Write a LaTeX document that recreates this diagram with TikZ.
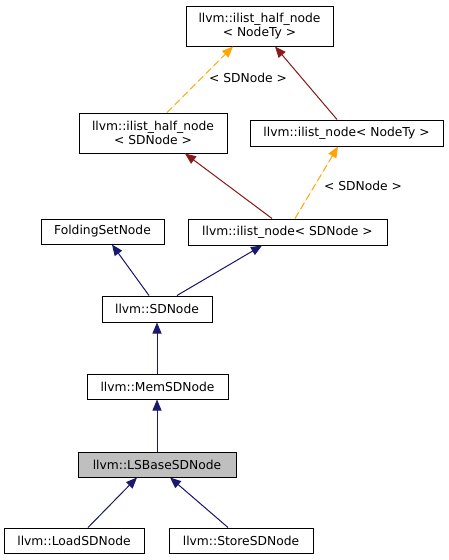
\documentclass[tikz,border=0pt]{standalone}
\usepackage{fontspec}
\setmainfont{DejaVu Sans}
\usetikzlibrary{arrows.meta}
\definecolor{navy}{HTML}{191970}
\definecolor{dred}{HTML}{8B1A1A}
\definecolor{orng}{HTML}{FFA500}
\begin{document}
\begin{tikzpicture}[x=1pt,y=-1pt,
  box/.style={draw=black,line width=1pt,fill=white,inner sep=0pt,align=center,
    font=\fontsize{12.3}{13.5}\selectfont},
  lbl/.style={inner sep=0pt,font=\fontsize{12.3}{13.5}\selectfont},
  tip/.style={-{Triangle[length=11pt,width=9pt]}},
  inh/.style={tip,draw=navy,fill=navy,line width=1pt},
  mem/.style={tip,draw=dred,fill=dred,line width=1pt},
  tpl/.style={tip,draw=orng,fill=orng,line width=1pt,dash pattern=on 7pt off 4pt}]
\useasboundingbox (0,0) rectangle (448,560);
\node[box,minimum width=147,minimum height=40] (hnT) at (259.5,26) {llvm::ilist\_half\_node\\< NodeTy >};
\node[box,minimum width=148,minimum height=40] (hnS) at (153,133) {llvm::ilist\_half\_node\\< SDNode >};
\node[box,minimum width=193,minimum height=26] (nT) at (346.5,133) {llvm::ilist\_node< NodeTy >};
\node[box,minimum width=123,minimum height=25] (FSN) at (102.5,231.5) {FoldingSetNode};
\node[box,minimum width=199,minimum height=26] (nS) at (287.5,232) {llvm::ilist\_node< SDNode >};
\node[box,minimum width=110,minimum height=26] (SD) at (157,309) {llvm::SDNode};
\node[box,minimum width=141,minimum height=25] (Mem) at (157.5,386.5) {llvm::MemSDNode};
\node[box,minimum width=158,minimum height=25,fill={rgb,255:red,191;green,191;blue,191}] (LSB) at (157,464.5) {llvm::LSBaseSDNode};
\node[box,minimum width=140,minimum height=25] (Load) at (74,540.5) {llvm::LoadSDNode};
\node[box,minimum width=144,minimum height=25] (Store) at (241,540.5) {llvm::StoreSDNode};
\draw[tpl] ([xshift=14]hnS.north) -- ([xshift=-26.5]hnT.south);
\node[lbl] (l1) at (248,78) {< SDNode >};
\draw[mem] ([xshift=-9.5]nT.north) -- ([xshift=15.5]hnT.south);
\draw[mem] ([xshift=-15.5]nS.north) -- ([xshift=32]hnS.south);
\draw[tpl] ([xshift=7.5]nS.north) -- ([xshift=-8.5]nT.south);
\node[lbl] (l2) at (363,186) {< SDNode >};
\draw[inh] ([xshift=-8]SD.north) -- ([xshift=9.5]FSN.south);
\draw[inh] ([xshift=20]SD.north) -- ([xshift=-25.5]nS.south);
\draw[inh] (Mem.north -| SD.south) -- (SD.south);
\draw[inh] (LSB.north) -- (LSB.north |- Mem.south);
\draw[inh] ([xshift=14]Load.north) -- ([xshift=-20]LSB.south);
\draw[inh] ([xshift=-13]Store.north) -- ([xshift=13]LSB.south);
\end{tikzpicture}
\end{document}
